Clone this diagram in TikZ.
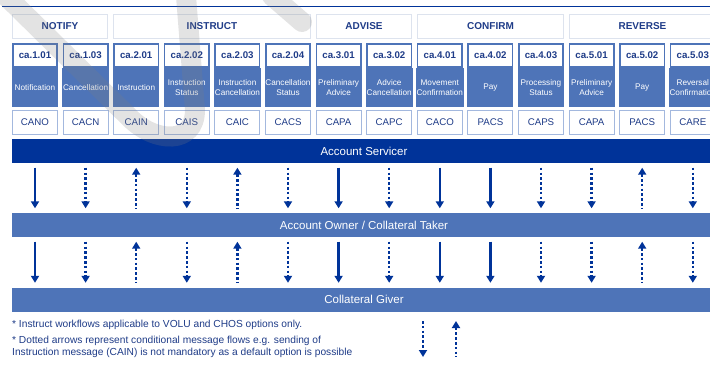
\documentclass[tikz,border=0pt]{standalone}
\usepackage{fontspec}
\setmainfont{Liberation Sans}
\usetikzlibrary{positioning,calc,arrows.meta}

\definecolor{darkblue}{HTML}{003399}
\definecolor{midblue}{HTML}{4E74B8}
\definecolor{lightblue}{HTML}{A3B8DE}
\definecolor{paleblue}{HTML}{DDE3EE}
\definecolor{textblue}{HTML}{1F3C88}

\tikzset{
  head/.style={draw=paleblue, line width=1pt, fill=white, minimum height=24pt,
    inner sep=0pt, font=\fontsize{10}{12}\selectfont\bfseries, text=textblue},
  msgid/.style={draw=midblue, line width=1.6pt, fill=white, minimum width=44.4pt,
    minimum height=23.4pt, inner sep=0pt, font=\fontsize{9.7}{11}\selectfont\bfseries, text=textblue},
  msgname/.style={draw=midblue, fill=midblue, line width=1.6pt, minimum width=44.4pt,
    minimum height=37.4pt, inner sep=0pt, align=center, font=\fontsize{8.2}{10}\selectfont, text=white},
  msgcode/.style={draw=lightblue, line width=1pt, fill=white, minimum width=45pt,
    minimum height=24pt, inner sep=0pt, font=\fontsize{9.7}{11}\selectfont, text=textblue},
  bar/.style={minimum width=704pt, minimum height=24pt, inner sep=0pt, text=white,
    font=\fontsize{11.5}{13}\selectfont},
  note/.style={inner sep=0pt, align=left, text=textblue, font=\fontsize{10.2}{12}\selectfont},
  arrowbase/.style={darkblue, line width=2.3pt, shorten <=4.5pt, shorten >=4.5pt},
  flowdn/.style={arrowbase, -{Triangle[width=8pt,length=7pt]}},
  conddn/.style={arrowbase, dash pattern=on 2.6pt off 2.2pt, -{Triangle[width=8pt,length=7pt]}},
  condup/.style={arrowbase, dash pattern=on 2.6pt off 2.2pt, {Triangle[width=8pt,length=7pt]}-},
}

\begin{document}
\begin{tikzpicture}[x=1pt,y=-1pt]
  \clip (0,0) rectangle (710,372);
  \fill[white] (0,0) rectangle (710,372);
  \draw[darkblue, line width=1pt] (2,6) -- (710,6);
  %
  \node[head, minimum width=95pt] (notify) at (60,26.5) {NOTIFY};
  \node[head, minimum width=197pt] (instruct) at (212,26.5) {INSTRUCT};
  \node[head, minimum width=95.5pt] (advise) at (364,26.5) {ADVISE};
  \node[head, minimum width=146pt] (confirm) at (490.5,26.5) {CONFIRM};
  \node[head, minimum width=146pt] (reverse) at (642.5,26.5) {REVERSE};
  %
  \node[bar, fill=darkblue] (serv) at (364,151) {Account Servicer};
  \node[bar, fill=midblue] (owner) at (364,225) {Account Owner / Collateral Taker};
  \node[bar, fill=midblue] (giver) at (364,299.5) {Collateral Giver};
  %
  \foreach \i/\cid/\cname/\ccode/\cflow in {
      0/ca.1.01/Notification/CANO/flowdn,
      1/ca.1.03/Cancellation/CACN/conddn,
      2/ca.2.01/Instruction/CAIN/condup,
      3/ca.2.02/{Instruction\\Status}/CAIS/conddn,
      4/ca.2.03/{Instruction\\Cancellation}/CAIC/condup,
      5/ca.2.04/{Cancellation\\Status}/CACS/conddn,
      6/ca.3.01/{Preliminary\\Advice}/CAPA/flowdn,
      7/ca.3.02/{Advice\\Cancellation}/CAPC/conddn,
      8/ca.4.01/{Movement\\Confirmation}/CACO/flowdn,
      9/ca.4.02/Pay/PACS/flowdn,
      10/ca.4.03/{Processing\\Status}/CAPS/conddn,
      11/ca.5.01/{Preliminary\\Advice}/CAPA/conddn,
      12/ca.5.02/Pay/PACS/condup,
      13/ca.5.03/{Reversal\\Confirmation}/CARE/conddn}{
    \node[msgid] (id\i) at ({35+50.6*\i},55.5) {\cid};
    \node[msgname, below=0pt of id\i] (name\i) {\cname};
    \node[msgcode, below=3pt of name\i] (code\i) {\ccode};
    \draw[\cflow] (serv.south -| code\i) -- (owner.north -| code\i);
    \draw[\cflow] (owner.south -| code\i) -- (giver.north -| code\i);
  }
  %
  \node[note, anchor=base west] (note1) at (12,327)
    {* Instruct workflows applicable to VOLU and CHOS options only.};
  \node[note, anchor=north west] (note2) at (12,335.5)
    {* Dotted arrows represent conditional message flows e.g. sending of\\
     Instruction message (CAIN) is not mandatory as a default option is possible};
  \coordinate (keya) at (423,321);
  \coordinate (keyb) at (423,357);
  \coordinate (keyc) at (456,321);
  \coordinate (keyd) at (456,357);
  \draw[conddn, shorten <=0pt, shorten >=0pt] (keya) -- (keyb);
  \draw[condup, shorten <=0pt, shorten >=0pt] (keyc) -- (keyd);
  %
  \draw[gray, opacity=0.22, line width=20pt, line cap=round]
    (6,-4) -- (130,118) .. controls (155,143) and (195,145) .. (195,110) -- (186,-4);
  \draw[gray, opacity=0.22, line width=20pt, line cap=round] (272,-4) -- (302,22);
\end{tikzpicture}
\end{document}
